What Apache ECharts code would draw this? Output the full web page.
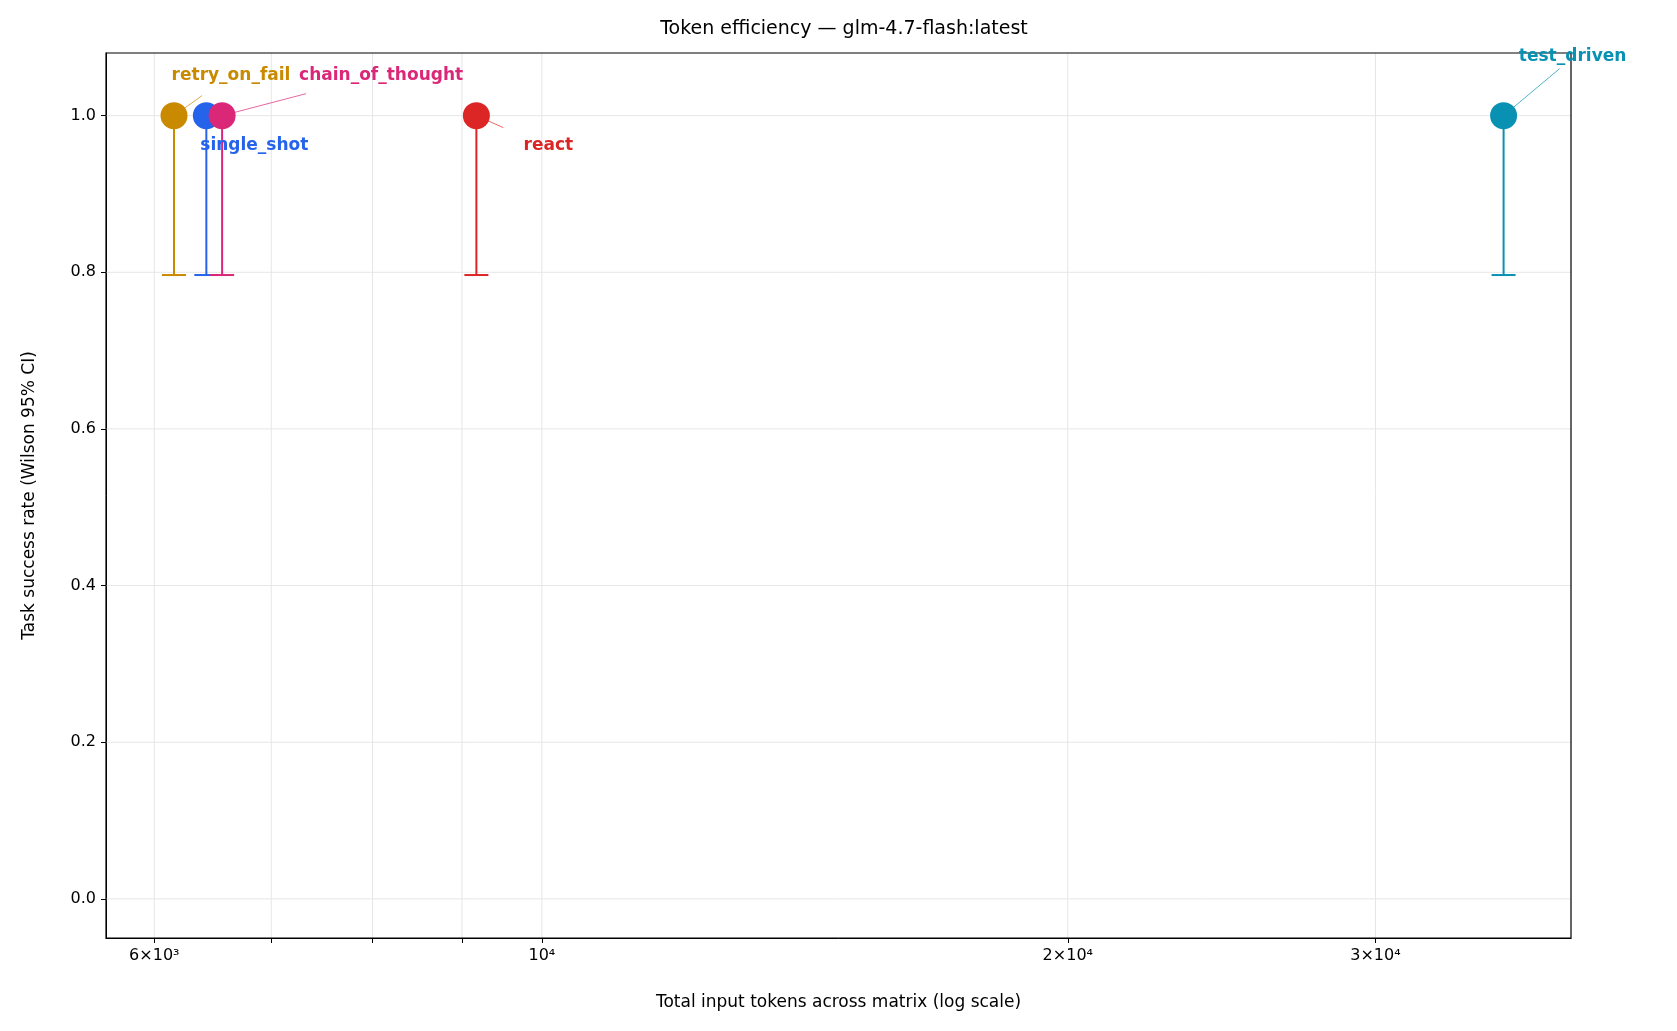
<!DOCTYPE html>
<html><head><meta charset="utf-8">
<script src="https://cdn.jsdelivr.net/npm/echarts@6/dist/echarts.min.js"></script>
<style>html,body{margin:0;padding:0;background:#fff}#c{width:1677px;height:1031px}</style>
</head><body><div id="c"></div>
<script>
const strategies = ['retry_on_fail','single_shot','chain_of_thought','react','test_driven'];
const tokens = [6158, 6426, 6561, 9173, 35520];
const success = [1.0, 1.0, 1.0, 1.0, 1.0];
const ciLow = [0.7965, 0.7965, 0.7965, 0.7965, 0.7965];
const ciHigh = [1.0, 1.0, 1.0, 1.0, 1.0];
const colors = ['#c98a00','#2563eb','#db2777','#dc2626','#0891b2'];
const xTicks = [6000, 7000, 8000, 9000, 10000, 20000, 30000];
const xTickLabels = {6000:'6×10³', 10000:'10⁴', 20000:'2×10⁴', 30000:'3×10⁴'};
const yTicks = [0, 0.2, 0.4, 0.6, 0.8, 1.0];
// label offsets (px): text center dx,dy ; line end dx,dy (null = no line)
const labelOffsets = [[57,-40,28,-20],[48,30,null,null],[159,-40,84,-22],[72,30,27,12],[69,-59,56,-47]];

const chart = echarts.init(document.getElementById('c'));
const FONT = 'DejaVu Sans';
chart.setOption({
  animation:false,
  title:{text:'Token efficiency — glm-4.7-flash:latest', left:839, top:15, textAlign:'center',
    textStyle:{fontFamily:FONT, fontWeight:'normal', fontSize:19, color:'#000'}},
  grid:{left:106, right:106, top:53, bottom:93},
  xAxis:{type:'log', min:5630, max:38820, name:'Total input tokens across matrix (log scale)',
    nameLocation:'middle', nameGap:56, nameTextStyle:{fontFamily:FONT, fontSize:17, color:'#000'},
    axisLine:{show:true, onZero:false, lineStyle:{color:'#000'}},
    axisTick:{show:true, customValues:xTicks, length:5, lineStyle:{color:'#000'}},
    minorTick:{show:false},
    axisLabel:{customValues:[6000,10000,20000,30000], formatter:v=>xTickLabels[Math.round(v)]||'',
      fontFamily:FONT, fontSize:16, color:'#000', margin:10},
    splitLine:{show:false}},
  yAxis:{type:'value', min:-0.05, max:1.08, name:'Task success rate (Wilson 95% CI)',
    nameLocation:'middle', nameGap:68, nameTextStyle:{fontFamily:FONT, fontSize:17, color:'#000'},
    axisLine:{show:true, lineStyle:{color:'#000'}},
    axisTick:{show:true, customValues:yTicks, length:5, lineStyle:{color:'#000'}},
    axisLabel:{customValues:yTicks, formatter:v=>v.toFixed(1), fontFamily:FONT, fontSize:16, color:'#000', margin:10},
    splitLine:{show:false}},
  series:[
    {type:'custom', silent:true, z:1, data:[0],
     renderItem:(p,api)=>{
       const ch=[];
       const a=api.coord([5630,-0.05]), b=api.coord([38820,1.08]);
       xTicks.forEach(t=>{const x=api.coord([t,0])[0];
         ch.push({type:'line',shape:{x1:x,y1:a[1],x2:x,y2:b[1]},style:{stroke:'#e6e6e6',lineWidth:1}});});
       yTicks.forEach(t=>{const y=api.coord([6000,t])[1];
         ch.push({type:'line',shape:{x1:a[0],y1:y,x2:b[0],y2:y},style:{stroke:'#e6e6e6',lineWidth:1}});});
       ch.push({type:'rect',shape:{x:a[0],y:b[1],width:b[0]-a[0],height:a[1]-b[1]},style:{fill:null,stroke:'#000',lineWidth:1.2}});
       return {type:'group',children:ch};
     }},
    {type:'custom', silent:true, z:2, data:strategies.map((s,i)=>[tokens[i],ciLow[i],ciHigh[i],i]),
     renderItem:(p,api)=>{
       const i=api.value(3), lo=api.coord([api.value(0),api.value(1)]), hi=api.coord([api.value(0),api.value(2)]);
       const c=colors[i], w=12;
       return {type:'group',children:[
         {type:'line',shape:{x1:lo[0],y1:lo[1],x2:hi[0],y2:hi[1]},style:{stroke:c,lineWidth:2}},
         {type:'line',shape:{x1:lo[0]-w,y1:lo[1],x2:lo[0]+w,y2:lo[1]},style:{stroke:c,lineWidth:2}},
         {type:'line',shape:{x1:hi[0]-w,y1:hi[1],x2:hi[0]+w,y2:hi[1]},style:{stroke:c,lineWidth:2}}]};
     }},
    {type:'scatter', z:3, symbolSize:27, data:strategies.map((s,i)=>({value:[tokens[i],success[i]],itemStyle:{color:colors[i],opacity:1}}))},
    {type:'custom', silent:true, z:4, data:strategies.map((s,i)=>[tokens[i],success[i],i]),
     renderItem:(p,api)=>{
       const i=api.value(2), pt=api.coord([api.value(0),api.value(1)]), o=labelOffsets[i];
       const ch=[];
       if(o[2]!==null) ch.push({type:'line',shape:{x1:pt[0],y1:pt[1],x2:pt[0]+o[2],y2:pt[1]+o[3]},style:{stroke:colors[i],lineWidth:1,opacity:0.7}});
       ch.push({type:'text',x:pt[0]+o[0],y:pt[1]+o[1],style:{text:strategies[i],fill:colors[i],font:'bold 17px "DejaVu Sans"',align:'center',verticalAlign:'middle'}});
       return {type:'group',children:ch};
     }}
  ]
});
</script></body></html>
